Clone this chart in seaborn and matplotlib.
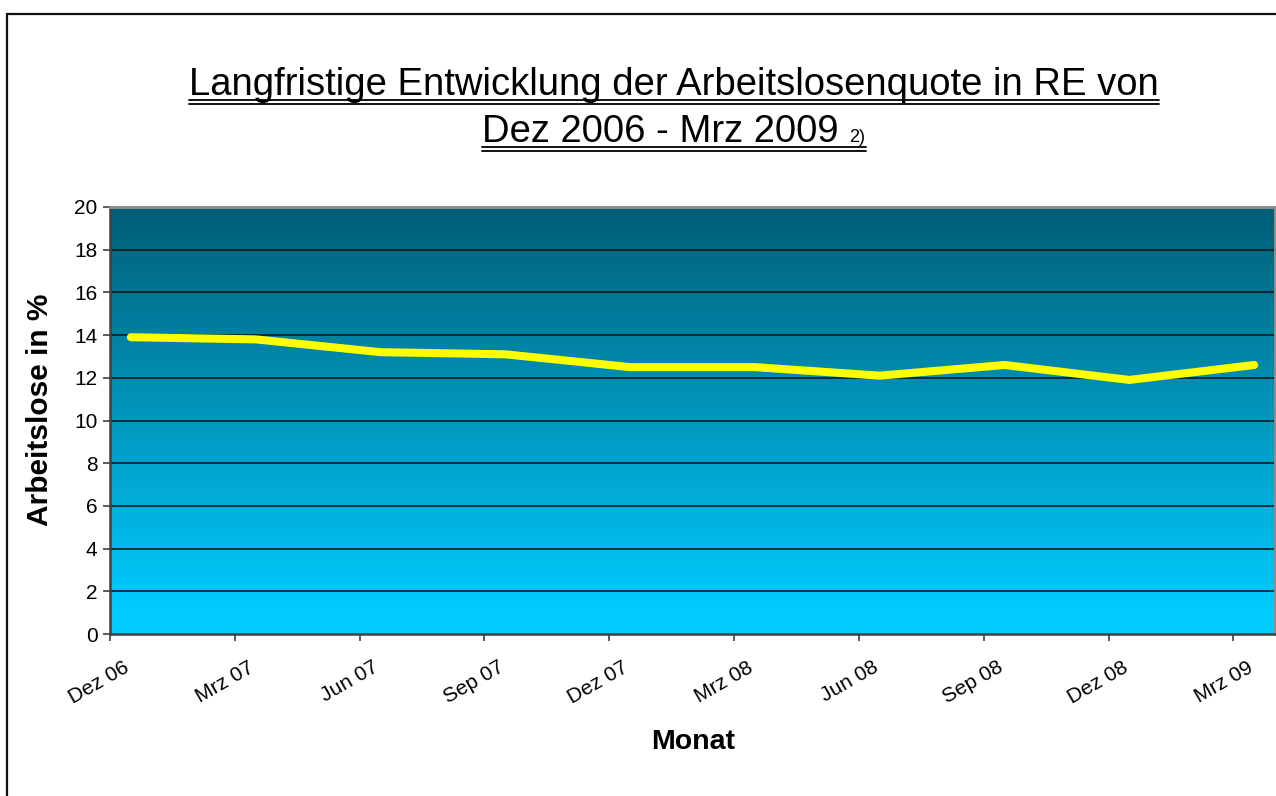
import numpy as np
import pandas as pd
import matplotlib
matplotlib.use("Agg")
import matplotlib.pyplot as plt
import matplotlib.transforms as mtransforms
from matplotlib.colors import LinearSegmentedColormap
from matplotlib.patches import Rectangle
from matplotlib.lines import Line2D
import seaborn as sns

# ---- data ----
months = ["Dez 06", "Mrz 07", "Jun 07", "Sep 07", "Dez 07",
          "Mrz 08", "Jun 08", "Sep 08", "Dez 08", "Mrz 09"]
rate = [13.9, 13.8, 13.2, 13.1, 12.5, 12.5, 12.1, 12.6, 11.9, 12.6]
y_ticks = [0, 2, 4, 6, 8, 10, 12, 14, 16, 18, 20]
title_line1 = "Langfristige Entwicklung der Arbeitslosenquote in RE von"
title_line2 = "Dez 2006 - Mrz 2009"
title_note = "2)"
y_label = "Arbeitslose in %"
x_label = "Monat"

sns.set_theme(style="white")
plt.rcParams["font.family"] = ["Liberation Sans", "DejaVu Sans"]

W, H = 1276, 796
fig = plt.figure(figsize=(W / 100, H / 100), dpi=100)
fig.patch.set_facecolor("white")

# figure border
fig.patches.append(Rectangle((7 / W, -0.05), 1.1, 1 - 14 / H + 0.05,
                             transform=fig.transFigure, fill=False,
                             edgecolor="#111111", lw=1.6, zorder=0))

L, R, T, B = 110, 1275, 207, 634
ax = fig.add_axes([L / W, 1 - B / H, (R - L) / W, (B - T) / H])

# month positions: quarterly points, drawn mid-month on a monthly date axis
pos = np.arange(len(months)) * 3 + 0.5
tick_pos = np.arange(len(months)) * 3
df = pd.DataFrame({"pos": pos, "Quote": rate, "Monat": months})

# gradient background
cmap = LinearSegmentedColormap.from_list("bg", ["#005E76", "#00CCFF"], N=256)
yy = np.linspace(20, 0, 400)
t = np.clip((20 - yy) / 19.0, 0, 1)
grad = t[:, None] * np.ones((1, 2))
ax.imshow(grad, cmap=cmap, extent=[0, 28, 0, 20], aspect="auto",
          interpolation="bilinear", zorder=0, vmin=0, vmax=1)

ax.set_xlim(0, 28)
ax.set_ylim(0, 20)
ax.set_yticks(y_ticks)
ax.set_xticks(tick_pos)
ax.set_xticklabels(months)

for yv in y_ticks[1:-1]:
    ax.axhline(yv, color="#0a1a20", lw=1.2, zorder=1)

sns.lineplot(data=df, x="pos", y="Quote", ax=ax, color="#FFFF00", lw=5.8,
             zorder=3, legend=False)
for ln in ax.get_lines():
    if ln.get_color() in ("#FFFF00", "#ffff00"):
        ln.set_solid_capstyle("round")
        ln.set_solid_joinstyle("miter")

ax.set_xlabel("")
ax.set_ylabel("")

for side in ["left", "bottom"]:
    ax.spines[side].set_color("#404040")
    ax.spines[side].set_linewidth(1.8)
for side in ["top", "right"]:
    ax.spines[side].set_color("#8c8c8c")
    ax.spines[side].set_linewidth(2.2)

ax.tick_params(axis="y", direction="out", length=5, width=1.2, color="#404040",
               labelsize=15, pad=4, left=True, labelcolor="black")
ax.tick_params(axis="x", direction="out", length=5, width=1.2, color="#404040",
               labelsize=15, pad=12, bottom=True, labelcolor="black")
off = mtransforms.ScaledTranslation(13 / 100, 0, fig.dpi_scale_trans)
for lab in ax.get_xticklabels():
    lab.set_rotation(30)
    lab.set_ha("right")
    lab.set_va("top")
    lab.set_rotation_mode("anchor")
    lab.set_transform(lab.get_transform() + off)

fig.text(40 / W, 1 - 410 / H, y_label, rotation=90, ha="center", va="center",
         fontsize=21.5, fontweight="bold", color="black")
fig.text(693 / W, 1 - 742 / H, x_label, ha="center", va="center",
         fontsize=20.5, fontweight="bold", color="black")

# title with double underline
TFS = 27.5
cx = 674
BL1, BL2 = 95, 142
t1 = fig.text(cx / W, 1 - BL1 / H, title_line1, ha="center", va="baseline",
              fontsize=TFS, color="black")
t2 = fig.text(0, 1 - BL2 / H, title_line2 + " ", ha="left", va="baseline",
              fontsize=TFS, color="black")
t3 = fig.text(0, 1 - BL2 / H, title_note, ha="left", va="baseline",
              fontsize=13, color="black")
fig.canvas.draw()
r = fig.canvas.get_renderer()
w2 = t2.get_window_extent(r).width
w3 = t3.get_window_extent(r).width
x0 = cx - (w2 + w3) / 2
t2.set_x(x0 / W)
t3.set_x((x0 + w2) / W)
b1 = t1.get_window_extent(r)


def dunder(xa, xb, base_px):
    for d in (5, 9):
        yf = 1 - (base_px + d) / H
        fig.lines.append(Line2D([xa / W, xb / W], [yf, yf], transform=fig.transFigure,
                                color="black", lw=1.3))


dunder(b1.x0, b1.x1, BL1)
dunder(x0, x0 + w2 + w3, BL2)

fig.savefig("out.png", dpi=100, facecolor="white")
